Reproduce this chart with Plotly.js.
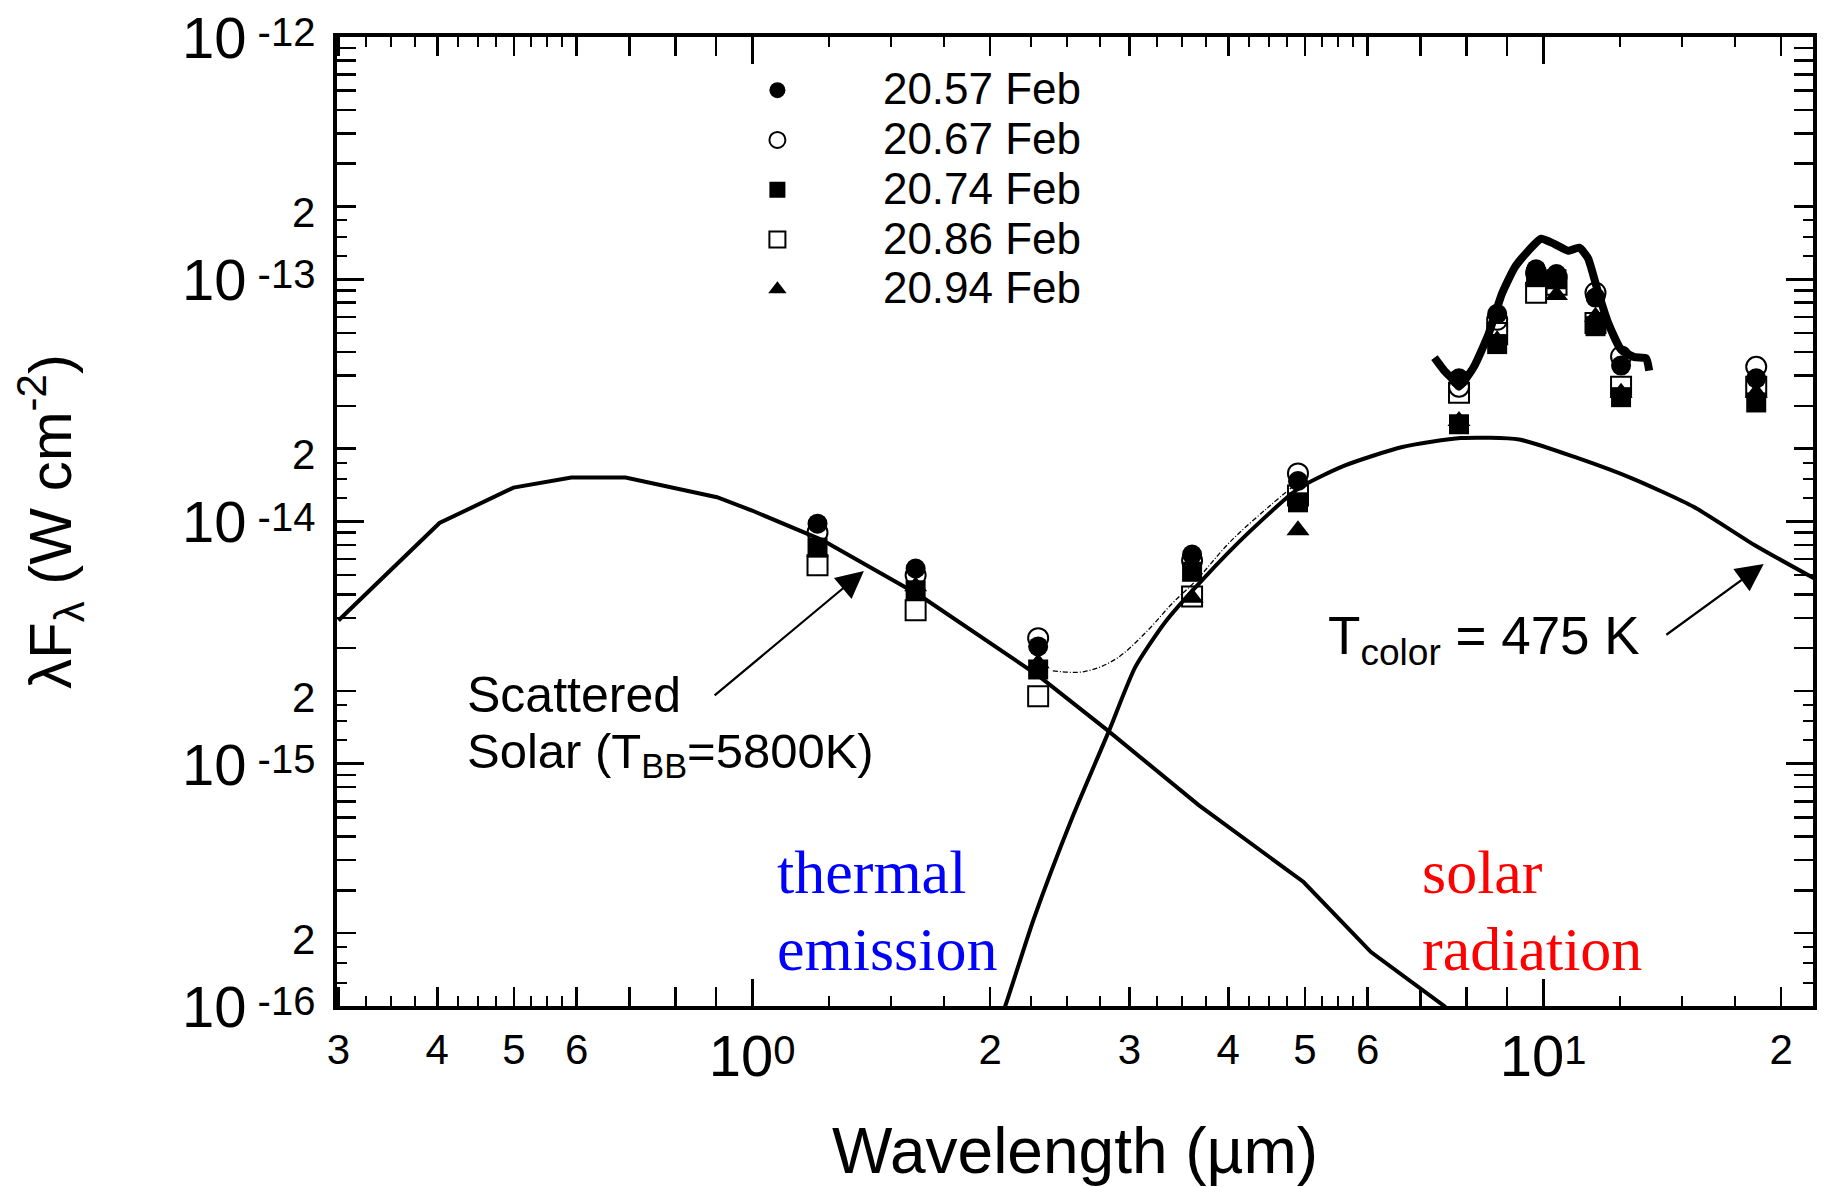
<!DOCTYPE html>
<html><head><meta charset="utf-8">
<script src="https://cdn.plot.ly/plotly-3.0.1.min.js"></script>
<style>html,body{margin:0;padding:0;background:#fff;}#chart{width:1831px;height:1187px;}</style>
</head><body><div id="chart"></div>
<script>
// ---------------- data ----------------
const seriesNames = ['20.57 Feb', '20.67 Feb', '20.74 Feb', '20.86 Feb', '20.94 Feb'];
const wavelengths = [1.21, 1.61, 2.30, 3.60, 4.90, 7.83, 8.75, 9.8, 10.4, 11.65, 12.55, 18.6];
const feb2057 = [9.8e-15, 6.4e-15, 3.05e-15, 7.3e-15, 1.47e-14, 3.9e-14, 7.2e-14, 1.10e-13, 1.05e-13, 8.4e-14, 4.4e-14, 3.9e-14];
const feb2067 = [9.0e-15, 6.0e-15, 3.3e-15, 6.9e-15, 1.58e-14, 3.6e-14, 6.8e-14, 1.06e-13, 1.02e-13, 8.8e-14, 4.8e-14, 4.35e-14];
const feb2074 = [7.8e-15, 5.2e-15, 2.45e-15, 6.2e-15, 1.20e-14, 2.52e-14, 5.4e-14, 1.02e-13, 1.00e-13, 6.4e-14, 3.26e-14, 3.1e-14];
const feb2086 = [6.6e-15, 4.3e-15, 1.9e-15, 4.9e-15, 1.28e-14, 3.4e-14, 6.0e-14, 8.8e-14, 9.5e-14, 6.6e-14, 3.6e-14, 3.6e-14];
const feb2094 = [7.5e-15, 5.4e-15, 2.6e-15, 4.85e-15, 9.2e-15, 2.6e-14, 5.6e-14, 1.00e-13, 8.6e-14, 7.0e-14, 3.4e-14, 3.4e-14];

// mid-IR spectrum (thick line)
const specWl = [7.29, 7.5, 7.71, 7.83, 8.17, 8.54, 8.87, 9.21, 9.58, 9.94, 10.33, 10.76, 11.11, 11.4, 11.72, 12.09, 12.56, 13.05, 13.5, 13.62];
const specF  = [4.75e-14, 4.2e-14, 3.83e-14, 3.6e-14, 4.33e-14, 5.98e-14, 8.7e-14, 1.12e-13, 1.31e-13, 1.47e-13, 1.40e-13, 1.31e-13, 1.35e-13, 1.22e-13, 9.0e-14, 6.6e-14, 5.1e-14, 4.77e-14, 4.72e-14, 4.2e-14];

// scattered solar curve (T_BB = 5800 K)
const solarWl = [0.30, 0.4026, 0.4994, 0.591, 0.692, 0.903, 1.0, 1.225, 1.63, 2.305, 2.81, 3.67, 4.98, 6.06, 7.5, 8.0];
const solarF  = [3.9e-15, 9.86e-15, 1.38e-14, 1.52e-14, 1.52e-14, 1.26e-14, 1.11e-14, 8.4e-15, 4.95e-15, 2.3e-15, 1.38e-15, 6.75e-16, 3.25e-16, 1.67e-16, 1.0e-16, 8.2e-17];

// thermal curve (T_color = 475 K)
const thermWl = [2.05, 2.09, 2.27, 2.535, 2.83, 3.05, 3.33, 3.72, 4.26, 4.91, 5.61, 6.64, 7.87, 9.33, 11.05, 13.0, 15.5, 18.5, 22.5];
const thermF  = [8.5e-17, 1.0e-16, 2.28e-16, 5.9e-16, 1.38e-15, 2.5e-15, 3.85e-15, 5.8e-15, 9.1e-15, 1.37e-14, 1.70e-14, 2.03e-14, 2.21e-14, 2.18e-14, 1.83e-14, 1.5e-14, 1.15e-14, 8.0e-15, 5.6e-15];

// thin model line between K and M
const modelWl = [2.40, 2.63, 2.88, 3.15, 3.40, 3.64, 4.03, 4.50, 4.86];
const modelF  = [2.42e-15, 2.4e-15, 2.7e-15, 3.5e-15, 4.6e-15, 5.7e-15, 8.3e-15, 1.15e-14, 1.42e-14];

// axis ticks
const xTickVals   = [0.3, 0.4, 0.5, 0.6, 0.7, 0.8, 0.9, 1, 2, 3, 4, 5, 6, 7, 8, 9, 10, 20];
const xTickLabels = ['3', '4', '5', '6', '', '', '', '10^0', '2', '3', '4', '5', '6', '', '', '', '10^1', '2'];
const xDecadeVals = [1, 10];
const xMinorVals  = [0.325, 0.35, 0.375, 0.425, 0.45, 0.475, 0.525, 0.55, 0.575,
                     1.25, 1.5, 1.75, 2.25, 2.5, 2.75, 3.25, 3.5, 3.75, 4.25, 4.5, 4.75, 5.25, 5.5, 5.75,
                     12.5, 15, 17.5];
const yDecades   = [-16, -15, -14, -13, -12];
const yMantissas = [1, 2, 3, 4, 5, 6, 7, 8, 9];
const yLabelledMantissas = [1, 2];
const ySmallMantissas = [1.25, 1.5, 1.75];

// ---------------- build ----------------
const FONT = '"Liberation Sans", Arial, Helvetica, sans-serif';
const SERIF = '"Liberation Serif", "Times New Roman", serif';
const X_RANGE = [-0.5247, 1.3413];
const Y_RANGE = [-16, -12];
const BASE_TICK = 28;     // base tick font: controls the superscript raise
const BIG = 58, EXP = 40, DIGIT = 42;

function decadeLabel(s, gap) {
  const p = s.split('^');
  return '<span style="font-size:' + BIG + 'px">' + p[0] + '</span><sup><span style="font-size:' + EXP + 'px">' +
         (gap ? ' ' : '') + p[1] + '</span></sup>';
}
function digitLabel(s, raise) {
  const t = '<span style="font-size:' + DIGIT + 'px">' + s + '</span>';
  return raise ? '<sup>' + t + '</sup>' : t;
}

// x: labelled ticks on the main axis, unlabelled ones on the overlay axis
const xLabVals = [], xLabText = [], xPlainVals = [];
xTickVals.forEach((v, i) => {
  const s = xTickLabels[i];
  if (s !== '') { xLabVals.push(v); xLabText.push(s.indexOf('^') >= 0 ? decadeLabel(s, false) : digitLabel(s, true)); }
  else xPlainVals.push(v);
});

const yLabVals = [], yLabText = [], yPlainVals = [], yMinor = [], yDecadeVals = [];
yDecades.forEach((d, i) => {
  const p = Math.pow(10, d);
  yDecadeVals.push(p);
  const last = i === yDecades.length - 1;
  yMantissas.forEach(m => {
    if (last && m > 1) return;
    const v = m * p;
    if (yLabelledMantissas.indexOf(m) >= 0) {
      yLabVals.push(v);
      yLabText.push(m === 1 ? decadeLabel('10^' + d, true) : digitLabel(String(m), false));
    } else yPlainVals.push(v);
  });
  if (!last) ySmallMantissas.forEach(m => yMinor.push(m * p));
});

const markerStyles = [
  {symbol: 'circle', color: '#000', line: {width: 0}},
  {symbol: 'circle-open', color: '#000', line: {width: 2, color: '#000'}},
  {symbol: 'square', color: '#000', line: {width: 0}},
  {symbol: 'square-open', color: '#000', line: {width: 2, color: '#000'}},
  {symbol: 'triangle-up', color: '#000', line: {width: 0}}
];
const seriesValues = [feb2057, feb2067, feb2074, feb2086, feb2094];

const traces = [
  {x: solarWl, y: solarF, mode: 'lines', line: {color: '#000', width: 4}, showlegend: false, hoverinfo: 'skip'},
  {x: thermWl, y: thermF, mode: 'lines', line: {color: '#000', width: 4, shape: 'spline', smoothing: 0.6}, showlegend: false, hoverinfo: 'skip'},
  {x: modelWl, y: modelF, mode: 'lines', line: {color: '#000', width: 1.3, dash: '5px,2px,1px,2px', shape: 'spline'}, showlegend: false, hoverinfo: 'skip'},
  {x: specWl, y: specF, mode: 'lines', line: {color: '#000', width: 8, shape: 'spline', smoothing: 0.5}, showlegend: false, hoverinfo: 'skip'}
];
seriesNames.forEach((n, i) => {
  traces.push({
    x: wavelengths, y: seriesValues[i], mode: 'markers', type: 'scatter',
    name: '<span style="font-size:44px">' + n + '</span>',
    marker: Object.assign({size: 20}, markerStyles[i])
  });
});
// empty trace to activate the overlay axes that carry the unlabelled / long decade ticks
traces.push({x: [], y: [], xaxis: 'x2', yaxis: 'y2', showlegend: false, mode: 'markers'});

const axCommon = {
  type: 'log', ticks: 'inside', tickcolor: '#000', showgrid: false, zeroline: false, automargin: false
};

const layout = {
  width: 1831, height: 1187,
  margin: {l: 337, r: 18, t: 37, b: 181, pad: 0},
  paper_bgcolor: '#fff', plot_bgcolor: '#fff',
  font: {family: FONT, color: '#000'},
  showlegend: true,
  legend: {
    x: 0.2269, y: 0.976, xanchor: 'left', yanchor: 'top',
    bgcolor: 'rgba(0,0,0,0)', borderwidth: 0,
    font: {family: FONT, size: 36, color: '#000'},
    itemwidth: 201, tracegroupgap: 0
  },
  xaxis: Object.assign({}, axCommon, {
    range: X_RANGE, tickmode: 'array', tickvals: xLabVals, ticktext: xLabText,
    ticklen: 19, tickwidth: 2.5,
    showline: true, linewidth: 4, linecolor: '#000', mirror: 'allticks',
    tickfont: {family: FONT, size: BASE_TICK, color: '#000'}, ticklabelstandoff: 32, ticklabeloverflow: 'allow',
    minor: {tickmode: 'array', tickvals: xMinorVals, ticks: 'inside', ticklen: 10, tickwidth: 2, tickcolor: '#000', showgrid: false},
    title: {text: 'Wavelength (µm)', font: {family: FONT, size: 64, color: '#000'}, standoff: 50}
  }),
  yaxis: Object.assign({}, axCommon, {
    range: Y_RANGE, tickmode: 'array', tickvals: yLabVals, ticktext: yLabText,
    ticklen: 19, tickwidth: 2.5,
    showline: true, linewidth: 4, linecolor: '#000', mirror: 'allticks',
    tickfont: {family: FONT, size: BASE_TICK, color: '#000'}, ticklabelstandoff: 12, ticklabelshift: 11, ticklabeloverflow: 'allow',
    minor: {tickmode: 'array', tickvals: yMinor, ticks: 'inside', ticklen: 10, tickwidth: 2, tickcolor: '#000', showgrid: false},
    title: {text: 'λF<sub>λ</sub> (W cm<sup>-2</sup>)', font: {family: FONT, size: 60, color: '#000'}, standoff: 92}
  }),
  xaxis2: Object.assign({}, axCommon, {
    range: X_RANGE, overlaying: 'x', anchor: 'y2', side: 'bottom',
    tickmode: 'array', tickvals: xPlainVals, ticklen: 19, tickwidth: 2.5,
    minor: {tickmode: 'array', tickvals: xDecadeVals, ticks: 'inside', ticklen: 27, tickwidth: 3, tickcolor: '#000', showgrid: false},
    showticklabels: false, showline: false, mirror: 'allticks'
  }),
  yaxis2: Object.assign({}, axCommon, {
    range: Y_RANGE, overlaying: 'y', anchor: 'x2', side: 'left',
    tickmode: 'array', tickvals: yPlainVals, ticklen: 19, tickwidth: 2.5,
    minor: {tickmode: 'array', tickvals: yDecadeVals, ticks: 'inside', ticklen: 27, tickwidth: 3, tickcolor: '#000', showgrid: false},
    showticklabels: false, showline: false, mirror: 'allticks'
  }),
  annotations: [
    {x: -0.3624, y: -14.715, xref: 'x', yref: 'y', text: 'Scattered', showarrow: false, xanchor: 'left', yanchor: 'middle',
     font: {family: FONT, size: 50, color: '#000'}},
    {x: -0.3624, y: -14.96, xref: 'x', yref: 'y', text: 'Solar (T<sub>BB</sub>=5800K)', showarrow: false, xanchor: 'left', yanchor: 'middle',
     font: {family: FONT, size: 49, color: '#000'}},
    {x: 0.1414, y: -14.204, xref: 'x', yref: 'y', ax: -0.0492, ay: -14.723, axref: 'x', ayref: 'y', text: '',
     showarrow: true, arrowhead: 2, arrowsize: 2.5, arrowwidth: 2.2, arrowcolor: '#000'},
    {x: 0.726, y: -14.488, xref: 'x', yref: 'y', text: 'T<sub>color</sub> = 475 K', showarrow: false, xanchor: 'left', yanchor: 'middle',
     font: {family: FONT, size: 53, color: '#000'}},
    {x: 1.279, y: -14.175, xref: 'x', yref: 'y', ax: 1.154, ay: -14.472, axref: 'x', ayref: 'y', text: '',
     showarrow: true, arrowhead: 2, arrowsize: 2.5, arrowwidth: 2.2, arrowcolor: '#000'},
    {x: 0.029, y: -15.448, xref: 'x', yref: 'y', text: 'thermal', showarrow: false, xanchor: 'left', yanchor: 'middle',
     font: {family: SERIF, size: 62, color: '#0000ff'}},
    {x: 0.029, y: -15.765, xref: 'x', yref: 'y', text: 'emission', showarrow: false, xanchor: 'left', yanchor: 'middle',
     font: {family: SERIF, size: 62, color: '#0000ff'}},
    {x: 0.8447, y: -15.448, xref: 'x', yref: 'y', text: 'solar', showarrow: false, xanchor: 'left', yanchor: 'middle',
     font: {family: SERIF, size: 62, color: '#ff0000'}},
    {x: 0.8447, y: -15.765, xref: 'x', yref: 'y', text: 'radiation', showarrow: false, xanchor: 'left', yanchor: 'middle',
     font: {family: SERIF, size: 62, color: '#ff0000'}}
  ]
};

Plotly.newPlot('chart', traces, layout, {displayModeBar: false, staticPlot: true});
</script></body></html>
